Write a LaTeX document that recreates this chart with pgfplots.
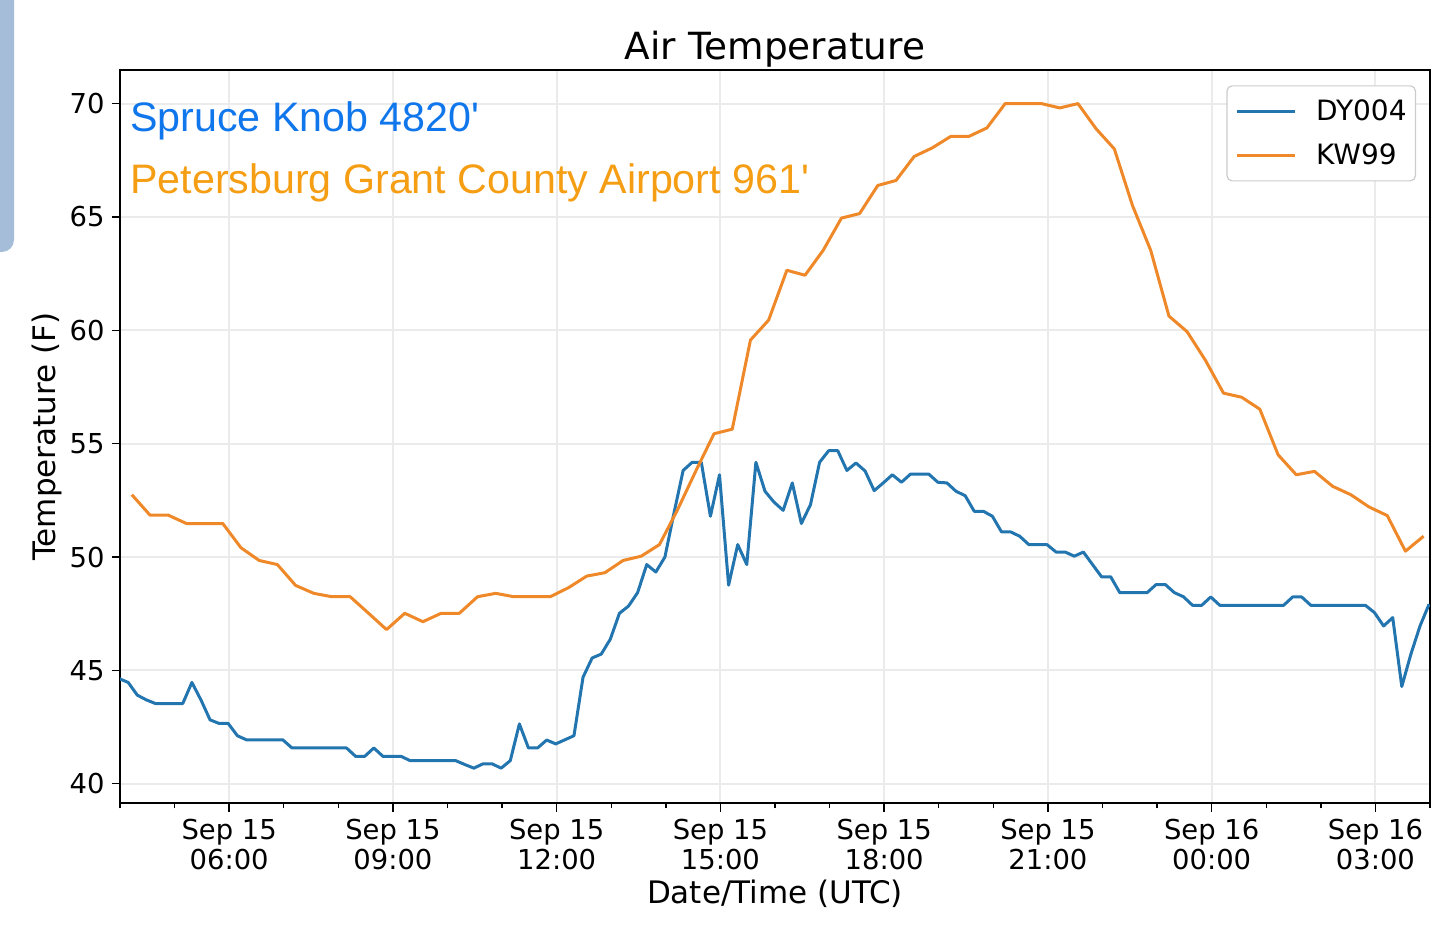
\documentclass[border=0pt]{standalone}
\usepackage{fontspec}
\setmainfont{DejaVu Sans}
\newfontfamily\annfont{Liberation Sans}
\usepackage{pgfplots}
\pgfplotsset{compat=1.18}
\definecolor{mplblue}{RGB}{35,117,175}
\definecolor{mplorange}{RGB}{238,136,40}
\definecolor{annblue}{RGB}{16,118,236}
\definecolor{annorange}{RGB}{245,158,20}
\definecolor{uiblue}{RGB}{165,189,216}
\definecolor{gridgray}{RGB}{235,235,235}
\begin{document}
\begin{tikzpicture}
\useasboundingbox (0,0) rectangle (718pt,468pt);
\fill[uiblue, rounded corners=6pt] (-20pt,342pt) rectangle (7pt,490pt);
\begin{axis}[
  at={(60pt,66.35pt)}, anchor=south west,
  scale only axis, width=655pt, height=366.5pt,
  xmin=4, xmax=28, ymin=39.14, ymax=71.47,
  xtick={6,9,...,27},
  xticklabels={{Sep 15\\06:00},{Sep 15\\09:00},{Sep 15\\12:00},{Sep 15\\15:00},{Sep 15\\18:00},{Sep 15\\21:00},{Sep 16\\00:00},{Sep 16\\03:00}},
  minor xtick={4,5,...,28},
  ytick={40,45,...,70},
  tick align=outside, tick pos=left,
  major tick length=4.2pt, minor tick length=2.5pt,
  every tick/.style={black, line width=0.7pt},
  grid=major, major grid style={gridgray, line width=1pt},
  axis line style={black, line width=0.8pt},
  /pgf/number format/assume math mode=true,
  ticklabel style={font=\fontsize{13.7}{15.3}\selectfont},
  xticklabel style={align=center},
  title={Air Temperature},
  title style={at={(axis description cs:0.5,0.9990)}, anchor=base, font=\fontsize{18.7}{22}\selectfont, inner sep=0pt},
  xlabel={Date/Time (UTC)},
  xlabel style={at={(axis description cs:0.5,-0.1368)}, anchor=base, font=\fontsize{15.5}{18}\selectfont, inner sep=0pt},
  ylabel={Temperature (F)},
  ylabel style={at={(axis description cs:-0.0492,0.5)}, anchor=base, font=\fontsize{15.5}{18}\selectfont, inner sep=0pt},
  legend style={at={(1,1)}, anchor=north east, xshift=-7pt, yshift=-7.5pt,
    draw=black!20, line width=0.6pt, rounded corners=2.5pt, fill=white,
    font=\fontsize{14}{16}\selectfont, inner xsep=4.4pt, inner ysep=6.8pt,
    row sep=10.1pt, nodes={inner sep=0pt},
    /tikz/every odd column/.append style={column sep=9.6pt}},
  legend cell align=left,
  legend image code/.code={\draw[#1, line width=1.5pt] (0pt,0pt) -- (29pt,0pt);},
]
\addplot[mplblue, line width=1.5pt, line join=round] coordinates {
(3.983,44.64)(4.150,44.47)(4.317,43.91)(4.483,43.70)(4.650,43.54)(4.817,43.54)(4.983,43.54)(5.150,43.54)(5.317,44.47)(5.483,43.70)(5.650,42.82)(5.817,42.66)(5.983,42.66)(6.150,42.12)(6.317,41.94)(6.483,41.94)(6.650,41.94)(6.817,41.94)(6.983,41.94)(7.150,41.58)(7.317,41.58)(7.483,41.58)(7.650,41.58)(7.817,41.58)(7.983,41.58)(8.150,41.58)(8.317,41.21)(8.483,41.21)(8.650,41.58)(8.817,41.21)(8.983,41.21)(9.150,41.21)(9.317,41.02)(9.483,41.02)(9.650,41.02)(9.817,41.02)(9.983,41.02)(10.150,41.02)(10.317,40.85)(10.483,40.69)(10.650,40.88)(10.817,40.88)(10.983,40.69)(11.150,41.02)(11.317,42.64)(11.483,41.58)(11.650,41.58)(11.817,41.93)(11.983,41.76)(12.150,41.94)(12.317,42.12)(12.483,44.70)(12.650,45.55)(12.817,45.72)(12.983,46.38)(13.150,47.52)(13.317,47.84)(13.483,48.43)(13.650,49.67)(13.817,49.34)(13.983,50.00)(14.150,51.95)(14.317,53.82)(14.483,54.18)(14.650,54.18)(14.817,51.80)(14.983,53.63)(15.150,48.76)(15.317,50.55)(15.483,49.67)(15.650,54.18)(15.817,52.90)(15.983,52.42)(16.150,52.06)(16.317,53.27)(16.483,51.48)(16.650,52.31)(16.817,54.18)(16.983,54.69)(17.150,54.69)(17.317,53.82)(17.483,54.15)(17.650,53.80)(17.817,52.93)(17.983,53.27)(18.150,53.63)(18.317,53.30)(18.483,53.66)(18.650,53.66)(18.817,53.66)(18.983,53.30)(19.150,53.27)(19.317,52.90)(19.483,52.71)(19.650,52.02)(19.817,52.02)(19.983,51.80)(20.150,51.11)(20.317,51.11)(20.483,50.92)(20.650,50.55)(20.817,50.55)(20.983,50.55)(21.150,50.22)(21.317,50.22)(21.483,50.04)(21.650,50.22)(21.817,49.67)(21.983,49.13)(22.150,49.13)(22.317,48.43)(22.483,48.43)(22.650,48.43)(22.817,48.43)(22.983,48.79)(23.150,48.79)(23.317,48.43)(23.483,48.25)(23.650,47.87)(23.817,47.87)(23.983,48.24)(24.150,47.87)(24.317,47.87)(24.483,47.87)(24.650,47.87)(24.817,47.87)(24.983,47.87)(25.150,47.87)(25.317,47.87)(25.483,48.24)(25.650,48.24)(25.817,47.87)(25.983,47.87)(26.150,47.87)(26.317,47.87)(26.483,47.87)(26.650,47.87)(26.817,47.87)(26.983,47.55)(27.150,46.96)(27.317,47.33)(27.483,44.29)(27.650,45.72)(27.817,46.96)(27.983,47.92)
};
\addlegendentry{DY004}
\addplot[mplorange, line width=1.5pt, line join=round] coordinates {
(4.217,52.75)(4.550,51.85)(4.883,51.85)(5.217,51.48)(5.550,51.48)(5.883,51.48)(6.217,50.41)(6.550,49.85)(6.883,49.67)(7.217,48.75)(7.550,48.40)(7.883,48.25)(8.217,48.25)(8.550,47.53)(8.883,46.80)(9.217,47.52)(9.550,47.15)(9.883,47.52)(10.217,47.52)(10.550,48.25)(10.883,48.40)(11.217,48.25)(11.550,48.25)(11.883,48.25)(12.217,48.65)(12.550,49.16)(12.883,49.31)(13.217,49.85)(13.550,50.04)(13.883,50.55)(14.217,52.10)(14.550,53.80)(14.883,55.44)(15.217,55.64)(15.550,59.57)(15.883,60.45)(16.217,62.65)(16.550,62.43)(16.883,63.53)(17.217,64.95)(17.550,65.15)(17.883,66.39)(18.217,66.61)(18.550,67.67)(18.883,68.05)(19.217,68.55)(19.550,68.55)(19.883,68.93)(20.217,70.00)(20.550,70.00)(20.883,70.00)(21.217,69.81)(21.550,70.00)(21.883,68.89)(22.217,68.00)(22.550,65.50)(22.883,63.53)(23.217,60.63)(23.550,59.94)(23.883,58.69)(24.217,57.23)(24.550,57.05)(24.883,56.52)(25.217,54.51)(25.550,53.63)(25.883,53.78)(26.217,53.12)(26.550,52.75)(26.883,52.21)(27.217,51.83)(27.550,50.26)(27.883,50.92)
};
\addlegendentry{KW99}
\node[anchor=base west, inner sep=0pt, font=\annfont\fontsize{20.6}{24}\selectfont, text=annblue] at (axis description cs:0.0076,0.9164) {Spruce Knob 4820\textquotesingle};
\node[anchor=base west, inner sep=0pt, font=\annfont\fontsize{20.6}{24}\selectfont, text=annorange] at (axis description cs:0.0076,0.8322) {Petersburg Grant County Airport 961\textquotesingle};
\end{axis}
\end{tikzpicture}
\end{document}
